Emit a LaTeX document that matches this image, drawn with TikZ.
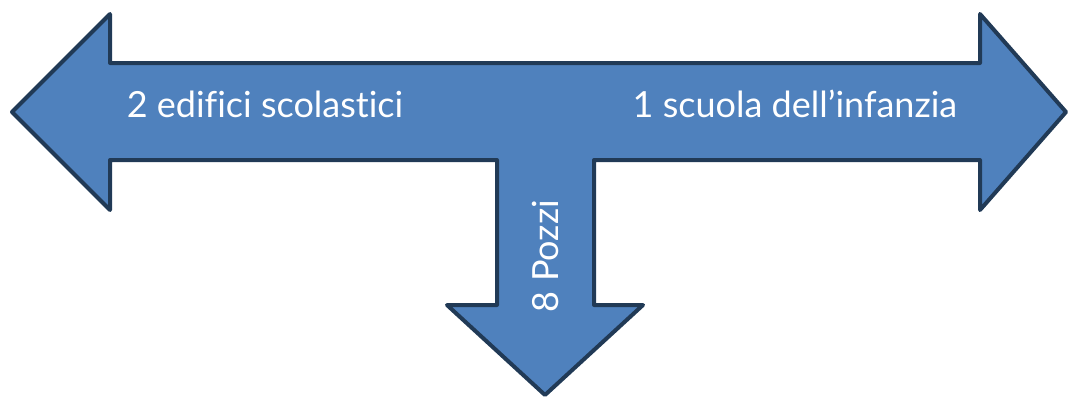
\documentclass[tikz,border=0pt]{standalone}
\usepackage{fontspec}
\setmainfont[Ligatures=NoCommon]{Lato}
\definecolor{arrowfill}{HTML}{4F81BD}
\definecolor{arrowline}{HTML}{213A56}
\begin{document}
\begin{tikzpicture}[x=1pt,y=-1pt,
    label/.style={text=white,font=\fontsize{36}{42}\selectfont,inner sep=0pt}]
                \useasboundingbox (0,0) rectangle (1070,399);
                % T-shaped arrow with three heads
                \draw[arrowline,fill=arrowfill,line width=4pt,line join=round]
                    (12,112) -- (110,14) -- (110,63) -- (980,63) -- (980,14) -- (1066,112)
                    -- (980,210) -- (980,160) -- (594,160) -- (594,305) -- (643,305)
                    -- (545,395) -- (447,305) -- (497,305) -- (497,160) -- (110,160)
                    -- (110,210) -- cycle;
                \node[label] (left) at (265,104) {2 edifici scolastici};
                \node[label] (right) at (795,104) {1 scuola dell’infanzia};
                \node[label,rotate=90] (down) at (546,256) {8 Pozzi};
            \end{tikzpicture}
\end{document}
